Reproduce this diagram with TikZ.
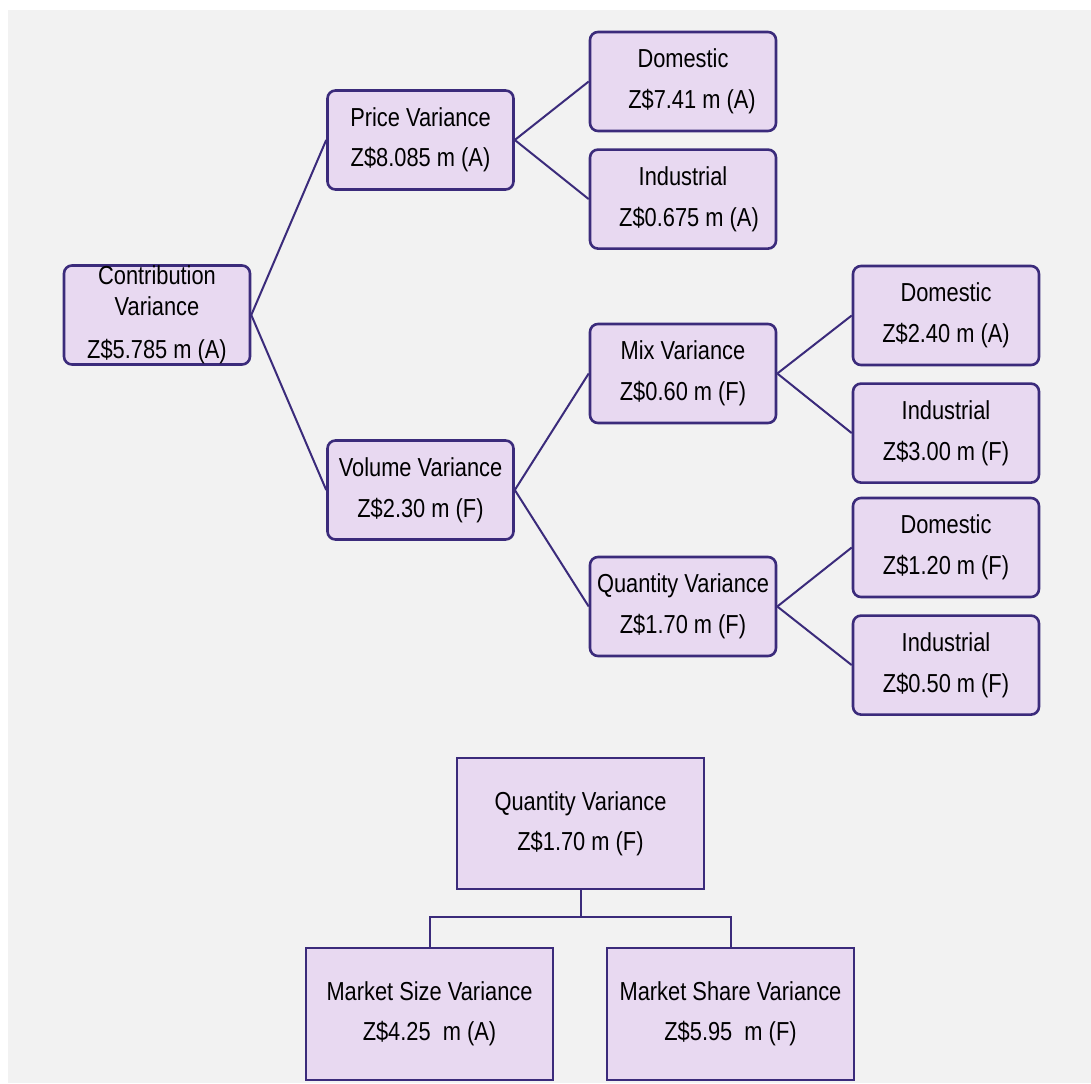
\documentclass[tikz,border=0pt]{standalone}
\usepackage{fontspec}
\setmainfont{Liberation Sans}[FakeStretch=0.84]
\usetikzlibrary{positioning}
\definecolor{boxfill}{HTML}{E8D9F1}
\definecolor{boxline}{HTML}{3B2B7B}
\definecolor{backgray}{HTML}{F2F2F2}
\tikzset{var/.style={draw=boxline, fill=boxfill, line width=2.6pt, rounded corners=8pt, inner sep=0pt, minimum width=186pt, minimum height=99pt, align=center, font=\fontsize{26}{31}\selectfont},
  sqvar/.style={var, sharp corners, minimum width=247pt, minimum height=131pt},
  link/.style={draw=boxline, line width=2pt}}

\begin{document}
\begin{tikzpicture}[x=1pt, y=-1pt]
  \fill[white] (0,0) rectangle (1091,1083);
  \fill[backgray] (8,10) rectangle (1091,1083);
  \useasboundingbox (0,0) rectangle (1091,1083);

  % top tree
  \node[var] (contrib) at (157,315) {Contribution\\Variance\\[12pt]Z\$5.785 m (A)};
  \node[var] (price) at (420.5,140) {Price Variance\\[9pt]Z\$8.085 m (A)};
  \node[var] (vol) at (420.5,490) {Volume Variance\\[10pt]Z\$2.30 m (F)};

  \node[var] (dom1) at (683,81.5) {Domestic\\[10pt]\hspace*{18pt}Z\$7.41 m (A)};
  \node[var, below = 16pt of dom1] (ind1) {Industrial\\[10pt]\hspace*{12pt}Z\$0.675 m (A)};

  \node[var] (mix) at (683,373.5) {Mix Variance\\[10pt]Z\$0.60 m (F)};
  \node[var] (qty) at (683,606.5) {Quantity Variance\\[10pt]Z\$1.70 m (F)};

  \node[var] (dom2) at (946,315.5) {Domestic\\[10pt]Z\$2.40 m (A)};
  \node[var, below = 16pt of dom2] (ind2) {Industrial\\[10pt]Z\$3.00 m (F)};
  \node[var] (dom3) at (946,547.5) {Domestic\\[10pt]Z\$1.20 m (F)};
  \node[var, below = 16pt of dom3] (ind3) {Industrial\\[10pt]Z\$0.50 m (F)};

  \draw[link] (contrib.east) -- (price.west);
  \draw[link] (contrib.east) -- (vol.west);
  \draw[link] (price.east) -- (dom1.west);
  \draw[link] (price.east) -- (ind1.west);
  \draw[link] (vol.east) -- (mix.west);
  \draw[link] (vol.east) -- (qty.west);
  \draw[link] (mix.east) -- (dom2.west);
  \draw[link] (mix.east) -- (ind2.west);
  \draw[link] (qty.east) -- (dom3.west);
  \draw[link] (qty.east) -- (ind3.west);

  % quantity split
  \node[sqvar] (qtyb) at (580.5,823.5) {Quantity Variance\\[9pt]Z\$1.70 m (F)};
  \node[sqvar, minimum height=132pt] (size) at (429.5,1014) {Market Size Variance\\[9pt]Z\$4.25~ m (A)};
  \node[sqvar, minimum height=132pt] (share) at (730.5,1014) {Market Share Variance\\[9pt]Z\$5.95~ m (F)};

  \draw[link] (qtyb.south) -- ++(0,27) coordinate (fork);
  \draw[link] (fork) -| (size.north);
  \draw[link] (fork) -| (share.north);
\end{tikzpicture}
\end{document}
